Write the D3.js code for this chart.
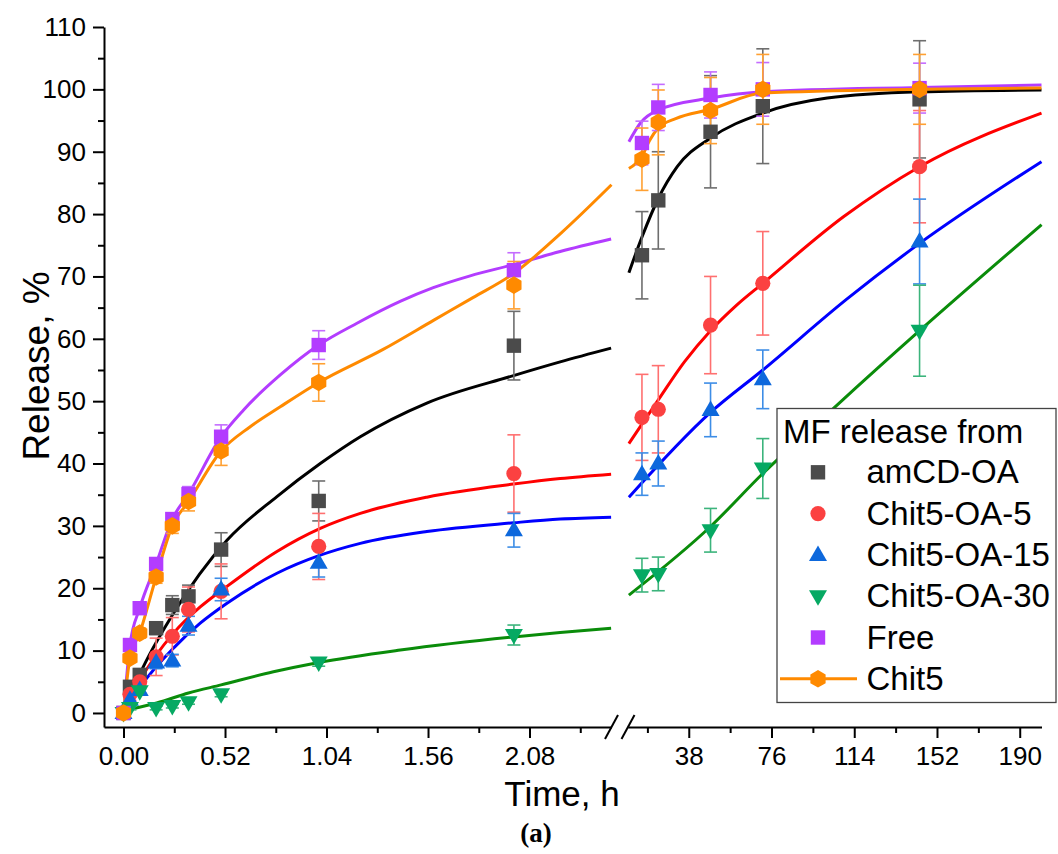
<!DOCTYPE html>
<html><head><meta charset="utf-8">
<script src="https://cdn.jsdelivr.net/npm/d3@7"></script>
<style>
body{margin:0;background:#fff}
text{font-family:"Liberation Sans",Arial,sans-serif;fill:#000}
</style>
</head><body>
<svg id="c" width="1058" height="854"></svg>
<script>
// ---------- data ----------
const seriesNames = ["amCD-OA","Chit5-OA-5","Chit5-OA-15","Chit5-OA-30","Free","Chit5"];
const timesEarly = [0, 0.033, 0.083, 0.167, 0.25, 0.333, 0.5, 1, 2];
const timesLate  = [16.5, 24, 48, 72, 144];

const amcdEarly   = [0, 4.2, 6.1, 13.6, 17.3, 18.7, 26.2, 34.0, 58.9];
const amcdLate    = [73.4, 82.2, 93.2, 97.3, 98.4];
const amcdErrEarly= [0, 0.8, 1, 1, 1.5, 1.8, 2.7, 3.2, 5.5];
const amcdErrLate = [7, 7.8, 9, 9.2, 9.4];

const oa5Early    = [0, 3.0, 5.0, 9.0, 12.3, 16.6, 19.5, 26.7, 38.4];
const oa5Late     = [47.4, 48.7, 62.2, 68.9, 87.6];
const oa5ErrEarly = [0, 1, 1, 3, 3, 3.6, 4.4, 5.3, 6.2];
const oa5ErrLate  = [6.9, 7, 7.8, 8.3, 9];

const oa15Early    = [0, 2.1, 3.7, 8.1, 8.4, 14.0, 19.8, 24.1, 29.3];
const oa15Late     = [38.3, 40.0, 48.6, 53.5, 75.6];
const oa15ErrEarly = [0, 0.5, 0.5, 1, 1, 1.5, 1.8, 2.3, 2.7];
const oa15ErrLate  = [3.4, 3.6, 4.3, 4.7, 6.8];

const oa30Early    = [0, 0.8, 3.5, 0.8, 1.1, 1.7, 3.0, 8.1, 12.5];
const oa30Late     = [22.1, 22.3, 29.3, 39.2, 61.3];
const oa30ErrEarly = [0, 0.3, 0.3, 0.3, 0.3, 0.3, 0.4, 0.6, 1.6];
const oa30ErrLate  = [2.7, 2.7, 3.5, 4.8, 7.3];

const freeEarly    = [0, 10.9, 16.8, 23.9, 31.1, 35.1, 44.3, 59.0, 71.0];
const freeLate     = [91.4, 97.1, 99.1, 100.0, 100.2];
const freeErrEarly = [0, 0.5, 0.5, 0.8, 1, 1.2, 1.9, 2.3, 2.8];
const freeErrLate  = [3.5, 3.7, 3.7, 4.3, 4.0];

const chit5Early    = [0, 8.8, 12.8, 21.8, 30.0, 33.9, 42.0, 53.0, 68.6];
const chit5Late     = [88.8, 94.7, 96.6, 100.0, 100.0];
const chit5ErrEarly = [0, 0.5, 0.8, 1, 1.2, 1.5, 2.3, 3.0, 3.8];
const chit5ErrLate  = [5, 5.2, 5.3, 5.6, 5.6];

// fitted / connecting curves: [time, release]
const amcdCurveEarly = [[0,0],[0.086,6.4],[0.256,16.0],[0.53,27.7],[0.786,34.7],[1.008,40.0],[1.213,44.3],[1.554,49.7],[1.998,54.1],[2.237,56.3],[2.498,58.5]];
const amcdCurveLate  = [[10.5,70.6],[16.6,76.4],[24,82.5],[32.7,87.6],[48,92.2],[72,96.2],[101.6,98.6],[144,99.6],[200,99.9]];
const oa5CurveEarly  = [[0,0],[0.086,5.3],[0.256,12.8],[0.393,17.0],[0.53,20.3],[0.786,25.9],[1.008,29.6],[1.213,32.0],[1.554,34.6],[1.998,36.7],[2.237,37.6],[2.498,38.3]];
const oa5CurveLate   = [[10.5,43.2],[24,50.2],[36,56.3],[48,61.3],[60,65.4],[72,68.9],[109.2,79.6],[144,87.6],[200,96.2]];
const oa15CurveEarly = [[0,0],[0.086,4.2],[0.256,10.4],[0.393,14.4],[0.53,17.6],[0.786,22.4],[1.008,25.3],[1.213,27.2],[1.554,29.1],[1.998,30.5],[2.237,31.1],[2.498,31.4]];
const oa15CurveLate  = [[10.5,34.6],[48,48.2],[72,55.0],[110.7,66.4],[144,75.3],[200,88.4]];
const oa30CurveEarly = [[0.033,0.6],[0.17,1.6],[0.333,3.2],[0.5,4.5],[0.768,6.6],[1.0,8.1],[1.418,10.1],[1.998,12.2],[2.237,12.9],[2.498,13.6]];
const oa30CurveLate  = [[10.5,18.9],[48,29.9],[72,38.4],[104.6,48.9],[144,61.3],[200,78.3]];
const freeCurveEarly = [[0,0],[0.033,10.9],[0.083,16.8],[0.167,23.9],[0.25,31.1],[0.333,35.1],[0.5,44.3],[0.615,48.6],[0.803,54.2],[1.0,59.0],[1.196,62.5],[1.417,66.0],[1.587,68.2],[1.776,70.1],[1.998,71.9],[2.237,74.0],[2.498,76.0]];
const freeCurveLate  = [[10.5,91.6],[15.8,94.6],[24,96.7],[48,98.6],[72,99.6],[144,100.3],[200,100.7]];
const chit5CurveEarly= [[0,0],[0.033,8.8],[0.083,12.8],[0.167,21.8],[0.25,30.0],[0.333,33.9],[0.5,42.0],[0.649,45.9],[0.803,49.1],[1.0,53.0],[1.33,58.3],[1.59,63.0],[1.79,66.6],[2.0,70.5],[2.24,76.9],[2.5,84.7]];
const chit5CurveLate = [[10.5,87.3],[16.6,89.3],[20,91.8],[24,93.8],[32,95.3],[48,96.8],[72,99.4],[144,100.0],[200,100.2]];

const yTicks = [0,10,20,30,40,50,60,70,80,90,100,110];
const yMinor = [5,15,25,35,45,55,65,75,85,95,105];
const xTicksEarly = [0, 0.52, 1.04, 1.56, 2.08];
const xMinorEarly = [0.26, 0.78, 1.30, 1.82, 2.34];
const xTicksLate = [38, 76, 114, 152, 190];
const xMinorLate = [19, 57, 95, 133, 171];

// ---------- styles ----------
const markerColors = ["#4b4b4b","#fb4141","#0d68dc","#06a963","#b33cff","#ff8a00"];
const curveColors  = ["#000000","#ff0000","#0000ff","#0a8c0a","#b33cff","#ff8a00"];
const errColors    = ["#6e6e6e","#ff7070","#3d8de6","#3cb47c","#c46cff","#ffa032"];
const shapes = ["square","circle","triangle","down","square","hexagon"];

const series = [
 {early:amcdEarly, late:amcdLate, eE:amcdErrEarly, eL:amcdErrLate, cE:amcdCurveEarly, cL:amcdCurveLate},
 {early:oa5Early, late:oa5Late, eE:oa5ErrEarly, eL:oa5ErrLate, cE:oa5CurveEarly, cL:oa5CurveLate},
 {early:oa15Early, late:oa15Late, eE:oa15ErrEarly, eL:oa15ErrLate, cE:oa15CurveEarly, cL:oa15CurveLate},
 {early:oa30Early, late:oa30Late, eE:oa30ErrEarly, eL:oa30ErrLate, cE:oa30CurveEarly, cL:oa30CurveLate},
 {early:freeEarly, late:freeLate, eE:freeErrEarly, eL:freeErrLate, cE:freeCurveEarly, cL:freeCurveLate},
 {early:chit5Early, late:chit5Late, eE:chit5ErrEarly, eL:chit5ErrLate, cE:chit5CurveEarly, cL:chit5CurveLate}
];
series.forEach((s,i)=>{s.name=seriesNames[i];s.mc=markerColors[i];s.cc=curveColors[i];s.ec=errColors[i];s.shape=shapes[i];});

const svg = d3.select("#c");
const y  = d3.scaleLinear().domain([-2.25,110]).range([727,27]);
const xE = d3.scaleLinear().domain([-0.1,2.5]).range([104,611.5]);
const xL = d3.scaleLinear().domain([10,200]).range([627.8,1041.5]);

// ---------- axes ----------
function styleAxis(g){
  g.selectAll(".domain").attr("stroke","#000").attr("stroke-width",2);
  g.selectAll(".tick line").attr("stroke","#000").attr("stroke-width",2);
  g.selectAll(".tick text").style("font-family",'"Liberation Sans",Arial,sans-serif').style("font-size","26px").attr("fill","#000");
}
const gxE = svg.append("g").attr("transform","translate(0,727)")
  .call(d3.axisBottom(xE).tickValues(xTicksEarly).tickSize(11).tickSizeOuter(0).tickPadding(9).tickFormat(d3.format(".2f")));
styleAxis(gxE);
const gxEm = svg.append("g").attr("transform","translate(0,727)")
  .call(d3.axisBottom(xE).tickValues(xMinorEarly).tickSize(6).tickFormat(""));
gxEm.select(".domain").remove(); styleAxis(gxEm);
const gxL = svg.append("g").attr("transform","translate(0,727)")
  .call(d3.axisBottom(xL).tickValues(xTicksLate).tickSize(11).tickSizeOuter(0).tickPadding(9).tickFormat(d3.format("d")));
styleAxis(gxL);
const gxLm = svg.append("g").attr("transform","translate(0,727)")
  .call(d3.axisBottom(xL).tickValues(xMinorLate).tickSize(6).tickFormat(""));
gxLm.select(".domain").remove(); styleAxis(gxLm);

const gy = svg.append("g").attr("transform","translate(104,0)")
  .call(d3.axisLeft(y).tickValues(yTicks).tickSize(11).tickSizeOuter(0).tickPadding(7).tickFormat(d3.format("d")));
styleAxis(gy);
const gym = svg.append("g").attr("transform","translate(104,0)")
  .call(d3.axisLeft(y).tickValues(yMinor).tickSize(6).tickFormat(""));
gym.select(".domain").remove(); styleAxis(gym);

// break marks
[[605,739,618,715],[621.5,739,634.5,715]].forEach(b=>{
  svg.append("line").attr("x1",b[0]).attr("y1",b[1]).attr("x2",b[2]).attr("y2",b[3])
    .attr("stroke","#000").attr("stroke-width",2);
});

// axis titles
svg.append("text").attr("transform","translate(49,366) rotate(-90)").attr("text-anchor","middle")
  .style("font-size","37px").text("Release, %");
svg.append("text").attr("x",562).attr("y",806).attr("text-anchor","middle")
  .style("font-size","35px").text("Time, h");
svg.append("text").attr("x",536).attr("y",842).attr("text-anchor","middle")
  .style("font-family",'"Liberation Serif","Times New Roman",serif').style("font-size","27px").style("font-weight","bold")
  .text("(a)");

// ---------- curves ----------
const plot = svg.append("g");
function lineFor(xs){return d3.line().x(d=>xs(d[0])).y(d=>y(d[1])).curve(d3.curveMonotoneX);}
series.forEach(s=>{
  plot.append("path").attr("d",lineFor(xE)(s.cE)).attr("fill","none").attr("stroke",s.cc).attr("stroke-width",3);
  plot.append("path").attr("d",lineFor(xL)(s.cL)).attr("fill","none").attr("stroke",s.cc).attr("stroke-width",3);
});

// ---------- error bars ----------
function errBars(xs, ts, vs, es, color){
  ts.forEach((t,i)=>{
    const e = es[i]; if(!e) return;
    const cx = xs(t), y1 = y(vs[i]-e), y2 = y(vs[i]+e);
    plot.append("line").attr("x1",cx).attr("x2",cx).attr("y1",y1).attr("y2",y2).attr("stroke",color).attr("stroke-width",1.6);
    [y1,y2].forEach(yy=>plot.append("line").attr("x1",cx-6.5).attr("x2",cx+6.5).attr("y1",yy).attr("y2",yy).attr("stroke",color).attr("stroke-width",1.6));
  });
}
series.forEach(s=>{
  errBars(xE, timesEarly, s.early, s.eE, s.ec);
  errBars(xL, timesLate, s.late, s.eL, s.ec);
});

// ---------- markers ----------
function shapePath(shape){
  if(shape==="square") return "M-7.2,-7.2H7.2V7.2H-7.2Z";
  if(shape==="circle") return d3.symbol(d3.symbolCircle, Math.PI*7.6*7.6)();
  if(shape==="triangle") return "M0,-9.5L9,6L-9,6Z";
  if(shape==="down") return "M0,9.5L9,-6L-9,-6Z";
  if(shape==="hexagon"){
    const r=8.8; const pts=d3.range(6).map(k=>{const a=(-90+60*k)*Math.PI/180;return [r*Math.cos(a),r*Math.sin(a)];});
    return "M"+pts.map(p=>p[0].toFixed(2)+","+p[1].toFixed(2)).join("L")+"Z";
  }
}
function markers(xs, ts, vs, s){
  ts.forEach((t,i)=>{
    plot.append("path").attr("d",shapePath(s.shape)).attr("transform",`translate(${xs(t)},${y(vs[i])})`).attr("fill",s.mc);
  });
}
series.forEach(s=>{
  markers(xE, timesEarly, s.early, s);
  markers(xL, timesLate, s.late, s);
});

// ---------- legend ----------
const lg = svg.append("g");
lg.append("rect").attr("x",777).attr("y",408.5).attr("width",279).attr("height",294)
  .attr("fill","#fff").attr("stroke","#444").attr("stroke-width",1.3);
lg.append("text").attr("x",783).attr("y",443).style("font-size","33px").text("MF release from");
series.forEach((s,i)=>{
  const base = 483.3 + i*41.3;
  const cy = base - 11;
  if(s.shape==="hexagon"){
    lg.append("line").attr("x1",780).attr("x2",857).attr("y1",cy).attr("y2",cy).attr("stroke",s.cc).attr("stroke-width",3);
  }
  lg.append("path").attr("d",shapePath(s.shape)).attr("transform",`translate(818,${cy})`).attr("fill",s.mc);
  lg.append("text").attr("x",866.5).attr("y",base).style("font-size","33px").text(s.name);
});
</script>
</body></html>
